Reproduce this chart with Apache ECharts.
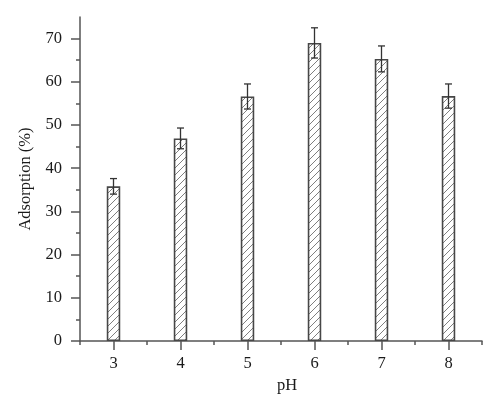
<!DOCTYPE html>
<html>
<head>
<meta charset="utf-8">
<script src="https://cdn.jsdelivr.net/npm/echarts@6/dist/echarts.min.js"></script>
<style>html,body{margin:0;padding:0;background:#fff;}#chart{width:500px;height:410px;}</style>
</head>
<body>
<div id="chart"></div>
<script>
var phValues = [3, 4, 5, 6, 7, 8];
var adsorption = [35.8, 46.9, 56.6, 69.0, 65.3, 56.7];
var errors = [1.8, 2.4, 2.9, 3.5, 3.0, 2.8];
var yTicks = [0, 10, 20, 30, 40, 50, 60, 70];
var yMinorTicks = [5, 15, 25, 35, 45, 55, 65];
var xMinorTicks = [2.5, 3.5, 4.5, 5.5, 6.5, 7.5, 8.5];

// hatch pattern
var S = 7;
var pc = document.createElement('canvas');
pc.width = S; pc.height = S;
var ctx = pc.getContext('2d');
ctx.fillStyle = '#fff'; ctx.fillRect(0, 0, S, S);
ctx.strokeStyle = '#707070'; ctx.lineWidth = 0.9;
ctx.beginPath();
ctx.moveTo(0, S); ctx.lineTo(S, 0);
ctx.moveTo(-1, 1); ctx.lineTo(1, -1);
ctx.moveTo(S - 1, S + 1); ctx.lineTo(S + 1, S - 1);
ctx.stroke();

var font = '"Liberation Serif", "Times New Roman", serif';
var axisColor = '#555';
var textColor = '#1a1a1a';

var barData = phValues.map(function (p, i) { return [p, adsorption[i]]; });
var errData = phValues.map(function (p, i) { return [p, adsorption[i] - errors[i], adsorption[i] + errors[i]]; });

var chart = echarts.init(document.getElementById('chart'), null, {renderer: 'canvas'});
chart.setOption({
  animation: false,
  backgroundColor: '#fff',
  grid: {left: 80, right: 18, top: 17, bottom: 69},
  xAxis: [{
    type: 'value', min: 2.5, max: 8.5,
    name: 'pH', nameLocation: 'middle', nameGap: 32,
    nameTextStyle: {fontFamily: font, fontSize: 16.5, color: textColor, padding: [0, 0, 0, 12]},
    axisLine: {show: true, lineStyle: {color: axisColor, width: 1.5}},
    axisTick: {show: true, length: 9, customValues: phValues, lineStyle: {color: axisColor, width: 1.5}},
    axisLabel: {customValues: phValues, margin: 14, fontFamily: font, fontSize: 16.5, color: textColor},
    splitLine: {show: false}
  }, {
    type: 'value', min: 2.5, max: 8.5, position: 'bottom',
    axisLine: {show: false},
    axisTick: {show: true, length: 4, customValues: xMinorTicks, lineStyle: {color: axisColor, width: 1.5}},
    axisLabel: {show: false},
    splitLine: {show: false}
  }],
  yAxis: [{
    type: 'value', min: 0, max: 75,
    name: 'Adsorption (%)', nameLocation: 'middle', nameGap: 44,
    nameTextStyle: {fontFamily: font, fontSize: 16.5, color: textColor},
    axisLine: {show: true, lineStyle: {color: axisColor, width: 1.5}},
    axisTick: {show: true, length: 9, customValues: yTicks, lineStyle: {color: axisColor, width: 1.5}},
    axisLabel: {customValues: yTicks, margin: 18, fontFamily: font, fontSize: 16.5, color: textColor},
    splitLine: {show: false}
  }, {
    type: 'value', min: 0, max: 75, position: 'left',
    axisLine: {show: false},
    axisTick: {show: true, length: 4, customValues: yMinorTicks, lineStyle: {color: axisColor, width: 1.5}},
    axisLabel: {show: false},
    splitLine: {show: false}
  }],
  series: [{
    type: 'bar',
    xAxisIndex: 0, yAxisIndex: 0,
    data: barData,
    barWidth: 13.5,
    itemStyle: {color: {image: pc, repeat: 'repeat'}, borderColor: '#474747', borderWidth: 1.6}
  }, {
    type: 'custom',
    xAxisIndex: 0, yAxisIndex: 0,
    data: errData,
    renderItem: function (params, api) {
      var x = api.value(0);
      var lo = api.coord([x, api.value(1)]);
      var hi = api.coord([x, api.value(2)]);
      var hw = 3.5;
      var st = {stroke: '#333', lineWidth: 1.3};
      return {type: 'group', children: [
        {type: 'line', shape: {x1: hi[0], y1: hi[1], x2: lo[0], y2: lo[1]}, style: st},
        {type: 'line', shape: {x1: hi[0] - hw, y1: hi[1], x2: hi[0] + hw, y2: hi[1]}, style: st},
        {type: 'line', shape: {x1: lo[0] - hw, y1: lo[1], x2: lo[0] + hw, y2: lo[1]}, style: st}
      ]};
    },
    z: 5
  }]
});
</script>
</body>
</html>
